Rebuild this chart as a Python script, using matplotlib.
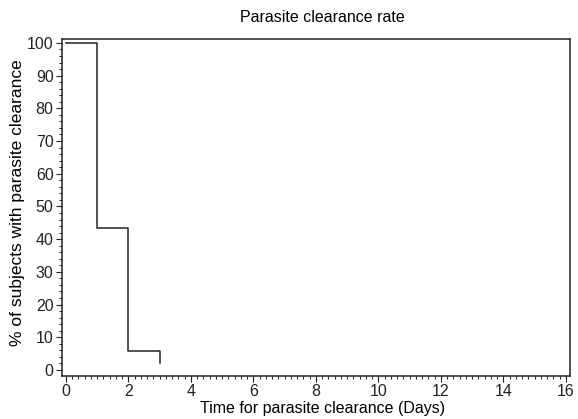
import matplotlib
matplotlib.use("Agg")
import matplotlib.pyplot as plt
from matplotlib.ticker import MultipleLocator

plt.rcParams['font.family'] = ['Liberation Sans', 'DejaVu Sans']

# step curve
days = [0, 1, 2, 3]
pct = [100, 43.5, 5.8, 2.2]

xs, ys = [], []
for i in range(len(days) - 1):
    xs += [days[i], days[i + 1]]
    ys += [pct[i], pct[i]]
xs.append(days[-1])
ys.append(pct[-1])

fig = plt.figure(figsize=(5.78, 4.19), dpi=100)
ax = fig.add_axes([0.107, 0.103, 0.879, 0.804])
ax.plot(xs, ys, color='#222222', lw=1.1)

ax.set_xlim(-0.13, 16.13)
ax.set_ylim(-1.8, 101.2)
ax.xaxis.set_major_locator(MultipleLocator(2))
ax.xaxis.set_minor_locator(MultipleLocator(0.2))
ax.yaxis.set_major_locator(MultipleLocator(10))
ax.yaxis.set_minor_locator(MultipleLocator(2))
ax.tick_params(which='major', length=4, labelsize=11.5, colors='#222222', pad=2)
ax.tick_params(which='minor', length=2)
for s in ax.spines.values():
    s.set_linewidth(1.1)
    s.set_color('#222222')

ax.set_title('Parasite clearance rate', fontsize=11.5, x=0.513, pad=12)
ax.set_xlabel('Time for parasite clearance (Days)', fontsize=11.5)
ax.set_ylabel('% of subjects with parasite clearance', fontsize=12.5)
ax.xaxis.set_label_coords(0.513, -0.075)
ax.yaxis.set_label_coords(-0.072, 0.513)

fig.savefig('out.png', dpi=100)
